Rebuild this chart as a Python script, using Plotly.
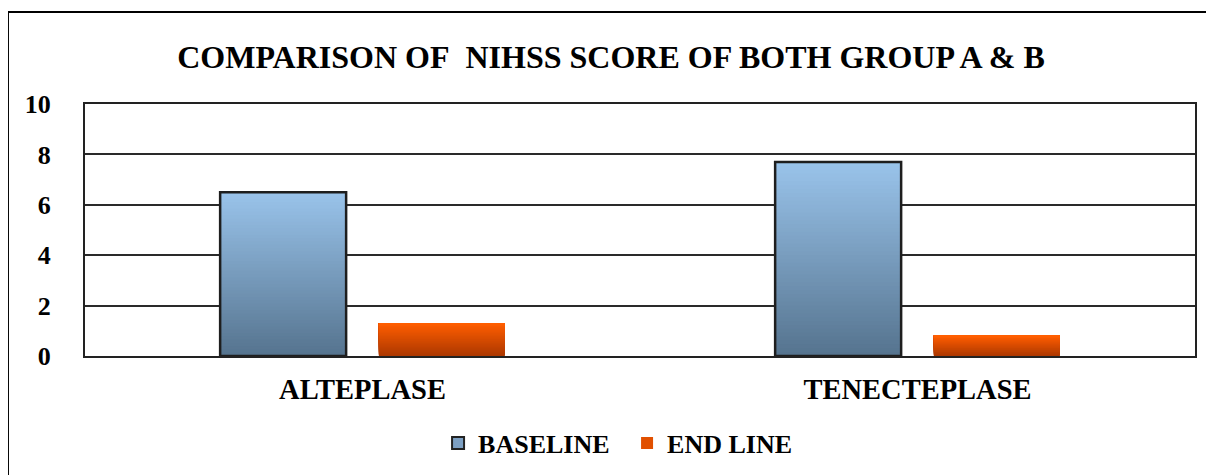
import plotly.graph_objects as go

# ---- data ----
categories = ["ALTEPLASE", "TENECTEPLASE"]
baseline = [6.5, 7.7]
end_line = [1.3, 0.8]
series_names = ["BASELINE", "END LINE"]
y_ticks = [0, 2, 4, 6, 8, 10]

title_text = "COMPARISON OF\u00a0 NIHSS SCORE OF BOTH GROUP A & B"

FONT = "Liberation Serif"

# gradient colours (top, bottom)
blue_top, blue_bot = (153, 195, 234), (86, 116, 143)
orng_top, orng_bot = (255, 94, 0), (172, 56, 0)

N = 50
xpos = list(range(len(categories)))
bar_w = 0.227
slot = 0.286
offsets = [-slot / 2 - bar_w / 2, slot / 2 - bar_w / 2]


def mix(c1, c2, t):
    return "rgb(%d,%d,%d)" % tuple(round(a + (b - a) * t) for a, b in zip(c1, c2))


fig = go.Figure()

for vals, (ctop, cbot), off in [
    (baseline, (blue_top, blue_bot), offsets[0]),
    (end_line, (orng_top, orng_bot), offsets[1]),
]:
    for k in range(N):
        t = k / (N - 1)
        fig.add_trace(go.Bar(
            x=xpos,
            y=[v * (1 - k / N) for v in vals],
            base=[v * k / N for v in vals],
            width=bar_w, offset=off,
            marker=dict(color=mix(cbot, ctop, t), line=dict(width=0)),
            showlegend=False, hoverinfo="skip",
        ))

# outline for baseline bars
fig.add_trace(go.Bar(
    x=xpos, y=baseline, width=bar_w, offset=offsets[0],
    marker=dict(color="rgba(0,0,0,0)", line=dict(color="#1e1e1e", width=2.5)),
    showlegend=False, hoverinfo="skip",
))

# legend entries
fig.add_trace(go.Bar(x=[None], y=[None], name="<b>" + series_names[0] + "</b>",
                     marker=dict(color="rgb(125,160,195)", line=dict(color="#222", width=2))))
fig.add_trace(go.Bar(x=[None], y=[None], name="<b>" + series_names[1] + "</b>",
                     marker=dict(color="rgb(225,80,0)", line=dict(width=0))))

# page body has an 8px default margin, so figure is sized to fit the window
W, H = 1206, 467
fig.update_layout(
    width=W, height=H,
    barmode="overlay",
    paper_bgcolor="white", plot_bgcolor="white",
    margin=dict(l=77, r=19, t=96, b=119),
    font=dict(family=FONT, color="black", size=26),
    title=dict(text="<b>" + title_text + "</b>", x=0.5, xanchor="center",
               y=1 - 49 / H, yanchor="middle",
               font=dict(family=FONT, size=32, color="black")),
    legend=dict(orientation="h", xref="container", yref="container",
                x=0.3566, xanchor="left", y=1 - 435 / H, yanchor="middle",
                font=dict(family=FONT, size=26, color="black"),
                entrywidth=144, entrywidthmode="pixels",
                itemsizing="constant", traceorder="normal"),
    xaxis=dict(range=[-0.5, 1.5], tickvals=xpos,
               ticktext=["<b>%s</b>" % c for c in categories],
               tickfont=dict(family=FONT, size=28.5, color="black"),
               showgrid=False, zeroline=False, showline=True, linecolor="#222",
               linewidth=2, mirror=True, ticks="", ticklabelstandoff=7, fixedrange=True,
               automargin=False),
    yaxis=dict(range=[0, 10], tickvals=y_ticks,
               ticktext=["<b>%d</b>" % v for v in y_ticks],
               showgrid=True, gridcolor="#2a2a2a", gridwidth=2, zeroline=False,
               showline=True, linecolor="#222", linewidth=2, mirror=True,
               ticks="", ticklabelstandoff=27, automargin=False),
    shapes=[dict(type="rect", xref="paper", yref="paper",
                 x0=-0.0694, x1=1.0153, y0=-0.6, y1=1.365,
                 line=dict(color="black", width=2), fillcolor="rgba(0,0,0,0)",
                 layer="below")],
)

fig.write_html("out.html")
